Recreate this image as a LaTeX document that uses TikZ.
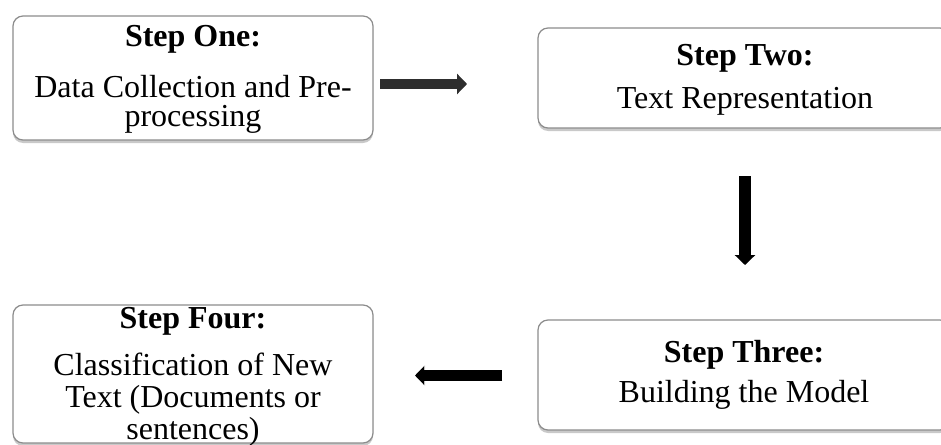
\documentclass[tikz,border=0pt]{standalone}
\usepackage{fontspec}
\setmainfont{Liberation Serif}
\usetikzlibrary{arrows.meta,shadows}
\definecolor{boxgray}{HTML}{8C8C8C}
\definecolor{arrowdark}{HTML}{2E2E2E}
\begin{document}
\begin{tikzpicture}[x=1pt,y=-1pt,
  stepbox/.style={draw=boxgray, line width=1.2pt, rounded corners=10pt, fill=white,
    inner sep=0pt,
    drop shadow={shadow xshift=0pt, shadow yshift=-3pt, opacity=0.3, fill=black!70}},
  steptitle/.style={font=\fontsize{32}{32}\selectfont\bfseries, anchor=base, inner sep=0pt},
  stepbody/.style={font=\fontsize{32}{32}\selectfont, anchor=base, inner sep=0pt},
  flow/.style={line width=10pt, -{Triangle[width=20pt,length=10pt]}},
  flowshadow/.style={line width=10pt, -{Triangle[width=20pt,length=10pt]}, black, opacity=0.15},
]
\useasboundingbox (0,0) rectangle (941,444);

% the four step boxes
\node[stepbox, minimum width=360pt, minimum height=124pt] (one)   at (193,78)  {};
\node[stepbox, minimum width=412pt, minimum height=100pt] (two)   at (744,78)  {};
\node[stepbox, minimum width=412pt, minimum height=110pt] (three) at (744,375) {};
\node[stepbox, minimum width=360pt, minimum height=138pt] (four)  at (193,374) {};

% step one
\node[steptitle] (oneT)  at (193,47)  {Step One:};
\node[stepbody]  (oneB1) at (193,97)  {Data Collection and Pre-};
\node[stepbody]  (oneB2) at (193,126) {processing};

% step two
\node[steptitle] (twoT) at (745,65)  {Step Two:};
\node[stepbody]  (twoB) at (745,108) {Text Representation};

% step three
\node[steptitle] (threeT) at (744,362) {Step Three:};
\node[stepbody]  (threeB) at (744,402) {Building the Model};

% step four
\node[steptitle] (fourT)  at (193,328) {Step Four:};
\node[stepbody]  (fourB1) at (193,375) {Classification of New};
\node[stepbody]  (fourB2) at (193,407) {Text (Documents or};
\node[stepbody]  (fourB3) at (193,439) {sentences)};

% block arrows between the steps
\coordinate (a1s) at (380,84);
\coordinate (a1e) at (467,84);
\coordinate (a2s) at (745,176);
\coordinate (a2e) at (745,265);
\coordinate (a3s) at (502,375.5);
\coordinate (a3e) at (415,375.5);

\draw[flowshadow, shift={(1.5,3)}] (a1s) -- (a1e);
\draw[flowshadow, shift={(1.5,3)}] (a2s) -- (a2e);
\draw[flowshadow, shift={(1.5,3)}] (a3s) -- (a3e);

\draw[flow, arrowdark] (a1s) -- (a1e);
\draw[flow, black, line width=12pt] (a2s) -- (a2e);
\draw[flow, black, line width=11pt, -{Triangle[width=18pt,length=9pt]}] (a3s) -- (a3e);
\end{tikzpicture}
\end{document}
